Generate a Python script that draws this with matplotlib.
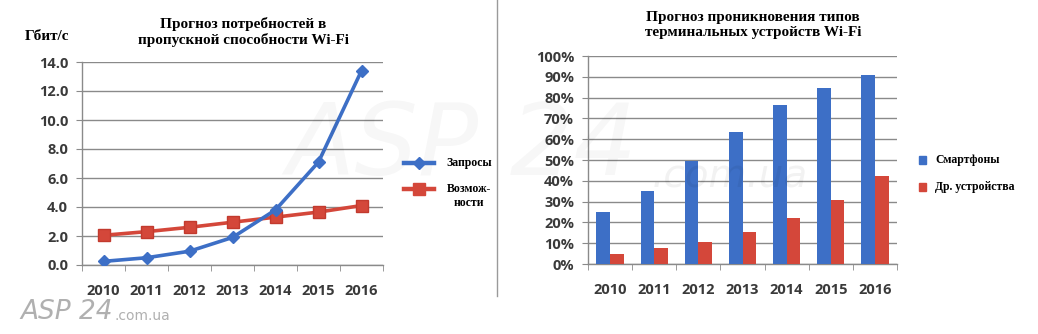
import numpy as np
import matplotlib
matplotlib.use("Agg")
import matplotlib.pyplot as plt
from matplotlib.lines import Line2D
from matplotlib.patches import Rectangle

# --- data ---
years = ["2010", "2011", "2012", "2013", "2014", "2015", "2016"]

# Gbit/s
demand = [0.25, 0.5, 0.95, 1.9, 3.8, 7.1, 13.4]
capacity = [2.05, 2.3, 2.6, 2.95, 3.3, 3.65, 4.1]

# share of Wi-Fi terminals
smartphones = [0.25, 0.35, 0.495, 0.635, 0.765, 0.845, 0.91]
other_devices = [0.05, 0.075, 0.105, 0.155, 0.22, 0.31, 0.425]

left_title = "Прогноз потребностей в\nпропускной способности Wi-Fi"
right_title = "Прогноз проникновения типов\nтерминальных устройств Wi-Fi"
left_unit = "Гбит/с"
line_labels = ["Запросы", "Возмож-\nности"]
bar_labels = ["Смартфоны", "Др. устройства"]

BLUE = "#3d6fc6"
RED = "#d4473a"
GRID = "#8a8a8a"
TICK_TXT = "#3a3a3a"
SERIF = "Liberation Serif"
SANS = "Open Sans"

W, H = 1038, 334
fig = plt.figure(figsize=(W / 100, H / 100), dpi=100)
fig.patch.set_facecolor("white")


def px_axes(x0, y0, x1, y1):
    # pixel box (top-left origin) -> figure axes
    return fig.add_axes([x0 / W, 1 - y1 / H, (x1 - x0) / W, (y1 - y0) / H])


def style_axes(ax, ymax, step, fmt):
    ax.set_facecolor("none")
    for s in ["top", "right"]:
        ax.spines[s].set_visible(False)
    ax.spines["left"].set_color(GRID)
    ax.spines["bottom"].set_color(GRID)
    ax.spines["left"].set_linewidth(1.0)
    ax.spines["bottom"].set_linewidth(1.0)
    ticks = np.arange(0, ymax + step / 2, step)
    ax.set_ylim(0, ymax)
    ax.set_yticks(ticks)
    ax.set_yticklabels([fmt(t) for t in ticks])
    ax.grid(axis="y", color=GRID, linewidth=1.0)
    ax.set_axisbelow(True)
    n = len(years)
    ax.set_xlim(-0.5, n - 0.5)
    ax.set_xticks(np.arange(n))
    ax.set_xticklabels(years)
    ax.set_xticks(np.arange(-0.5, n), minor=True)
    ax.tick_params(axis="x", which="major", length=0, pad=14,
                   labelsize=10.5, labelcolor=TICK_TXT)
    ax.tick_params(axis="x", which="minor", length=4, color=GRID, direction="out")
    ax.tick_params(axis="y", length=4, color=GRID, direction="out", pad=6,
                   labelsize=10.5, labelcolor=TICK_TXT)
    for lab in ax.get_xticklabels() + ax.get_yticklabels():
        lab.set_fontfamily(SANS)
        lab.set_fontweight("bold")


# faint site watermark behind the charts
wm = dict(color="#000000", fontfamily="DejaVu Sans", style="italic",
          ha="center", va="center", zorder=0)
fig.text(462 / W, 1 - 148 / H, "ASP 24", fontsize=72, alpha=0.03, **wm)
fig.text(730 / W, 1 - 176 / H, ".com.ua", fontsize=28, alpha=0.05, **wm)

# --- left: bandwidth forecast ---
ax1 = px_axes(82, 62, 383, 265)
style_axes(ax1, 14.0, 2.0, lambda t: f"{t:.1f}")
x = np.arange(len(years))
ax1.plot(x, demand, color=BLUE, lw=2.6, marker="D", ms=6.5,
         markerfacecolor=BLUE, markeredgecolor=BLUE, zorder=4)
ax1.plot(x, capacity, color=RED, lw=2.6, marker="s", ms=9,
         markerfacecolor=RED, markeredgecolor="#c23a2e", zorder=3)

fig.text(243 / W, 1 - 32 / H, left_title, ha="center", va="center",
         fontfamily=SERIF, fontweight="bold", fontsize=11, linespacing=1.25)
fig.text(47 / W, 1 - 36 / H, left_unit, ha="center", va="center",
         fontfamily=SERIF, fontweight="bold", fontsize=11)

# legend for the lines: short segment with a marker in the middle
for yy, col, mk, ms in [(163, BLUE, "D", 6), (189, RED, "s", 8)]:
    fig.add_artist(Line2D([404 / W, 419 / W, 434 / W], [1 - yy / H] * 3,
                          color=col, lw=3.2, marker=mk, markevery=[1], ms=ms,
                          transform=fig.transFigure))
fig.text(446 / W, 1 - 163 / H, line_labels[0], ha="left", va="center",
         fontfamily=SERIF, fontweight="bold", fontsize=8.5)
fig.text(469 / W, 1 - 196 / H, line_labels[1], ha="center", va="center",
         fontfamily=SERIF, fontweight="bold", fontsize=8.5, linespacing=1.3)

# --- separator between the two charts ---
fig.add_artist(Line2D([497 / W, 497 / W], [1 - 296 / H, 1.0], color="#9a9a9a",
                      lw=1.0, transform=fig.transFigure))

# --- right: terminal types forecast ---
ax2 = px_axes(588, 56, 897, 264)
style_axes(ax2, 1.0, 0.1, lambda t: f"{t * 100:.0f}%")
bw = 0.31
ax2.bar(x - bw / 2, smartphones, width=bw, color=BLUE, zorder=3)
ax2.bar(x + bw / 2, other_devices, width=bw, color=RED, zorder=3)

fig.text(753 / W, 1 - 25 / H, right_title, ha="center", va="center",
         fontfamily=SERIF, fontweight="bold", fontsize=11, linespacing=1.25)

for yy, col, lab in zip([160, 187], [BLUE, RED], bar_labels):
    fig.add_artist(Rectangle((919 / W, 1 - (yy + 4) / H), 7 / W, 8 / H,
                             color=col, transform=fig.transFigure))
    fig.text(935 / W, 1 - yy / H, lab, ha="left", va="center",
             fontfamily=SERIF, fontweight="bold", fontsize=8.5)

# site signature, bottom left
fig.text(20 / W, 1 - 312 / H, "ASP 24", ha="left", va="center",
         fontfamily="DejaVu Sans", style="italic", fontsize=19, color="#b0b0b0")
fig.text(114 / W, 1 - 316 / H, ".com.ua", ha="left", va="center",
         fontfamily="DejaVu Sans", fontsize=10, color="#b0b0b0")

fig.savefig("out.png", dpi=100, facecolor="white")
